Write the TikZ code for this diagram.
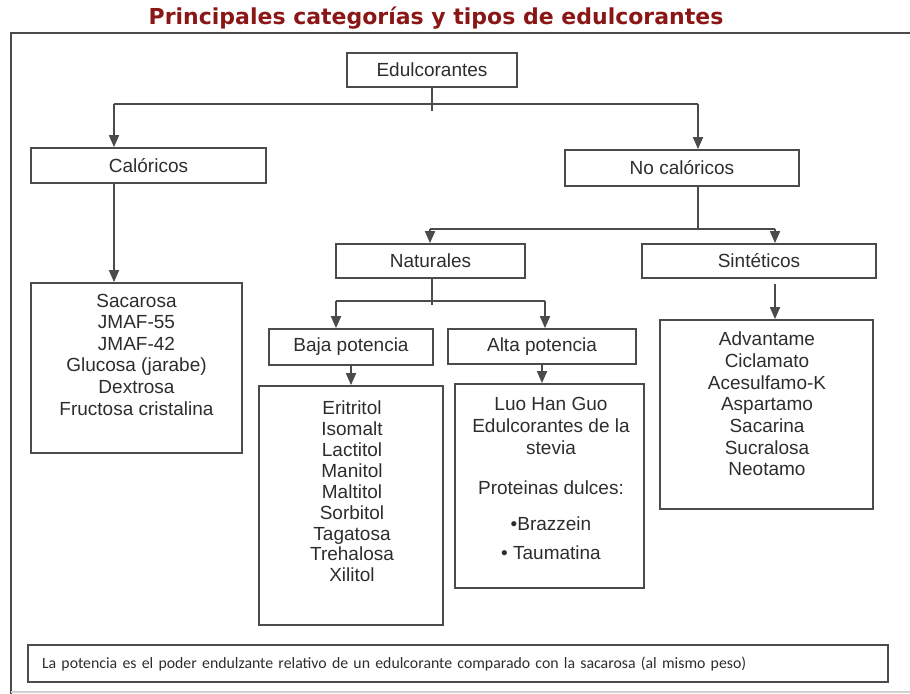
\documentclass[tikz,border=0pt]{standalone}
\usepackage{fontspec}
\setmainfont{Liberation Sans}
\newfontfamily\titlefont{DejaVu Sans}
\newfontfamily\notefont{Carlito}
\usetikzlibrary{calc,positioning,arrows.meta}
\definecolor{titlered}{RGB}{139,22,22}
\definecolor{boxline}{RGB}{75,75,75}
\definecolor{textgray}{RGB}{45,45,45}
\tikzset{
	% ---- default
	every path/.style={line width=0.9pt},
	every node/.style={font=\fontsize{9.5}{11}\selectfont},
	% ---- custom
	box/.style={draw=boxline, line width=0.9pt, inner sep=0pt, text=textgray},
	list/.style={align=center, inner sep=0pt, text=textgray, anchor=north},
	link/.style={draw=boxline, line width=0.9pt},
	arrow/.style={link, -{Triangle[length=6pt,width=5pt]}},
	frame/.style={draw=boxline, line width=0.8pt},
}

\begin{document}
\begin{tikzpicture}[x=0.5pt, y=-0.5pt]

% canvas %{{{2

	\useasboundingbox (0,0) rectangle (910,694);
	\draw[frame] (11,694) -- (11,33) -- (910,33);
	\draw[draw=gray!35, line width=0.6pt] (11,692) -- (910,692);

% title %{{{2

	\node[font=\titlefont\bfseries\fontsize{11}{13}\selectfont, text=titlered] (title) at (436,18) {Principales categorías y tipos de edulcorantes};

% boxes %{{{2

	\node[box, minimum width=85pt, minimum height=17pt] (ed) at (432,70) {Edulcorantes};
	\node[box, minimum width=117.5pt, minimum height=17.5pt] (cal) at (148.5,165.5) {Calóricos};
	\node[box, minimum width=117pt, minimum height=18pt] (nocal) at (682,168) {No calóricos};
	\node[box, minimum width=94.5pt, minimum height=17pt] (nat) at (430.5,261) {Naturales};
	\node[box, minimum width=117pt, minimum height=17pt] (sin) at (759,261) {Sintéticos};
	\node[box, minimum width=82pt, minimum height=18pt] (baja) at (351,347) {Baja potencia};
	\node[box, minimum width=94pt, minimum height=17.5pt] (alta) at (542,346.5) {Alta potencia};

	\node[box, minimum width=105.5pt, minimum height=85pt] (sac) at (136.5,368) {};
	\node[box, minimum width=92pt, minimum height=119.5pt] (eri) at (351,505.5) {};
	\node[box, minimum width=94.5pt, minimum height=102pt] (luo) at (549.5,486) {};
	\node[box, minimum width=106.5pt, minimum height=94.5pt] (adv) at (766.5,414.5) {};

	\node[box, minimum height=18.5pt, inner xsep=7pt, text width=416pt, align=left,
		font=\notefont\fontsize{7.9}{9}\selectfont] (note) at (458,663.5)
		{La potencia es el poder endulzante relativo de un edulcorante comparado con la sacarosa (al mismo peso)};

% lists %{{{2

	\node[list, font=\fontsize{9.5}{10.8}\selectfont] (sac-list) at (136.5,293)
		{Sacarosa\\JMAF-55\\JMAF-42\\Glucosa (jarabe)\\Dextrosa\\Fructosa cristalina};
	\node[list, font=\fontsize{9.5}{10.45}\selectfont] (eri-list) at (352,400)
		{Eritritol\\Isomalt\\Lactitol\\Manitol\\Maltitol\\Sorbitol\\Tagatosa\\Trehalosa\\Xilitol};
	\node[list, font=\fontsize{9.5}{11}\selectfont] (luo-list) at (551,396)
		{Luo Han Guo\\Edulcorantes de la\\stevia\\[9pt]Proteinas dulces:\\[7pt]•Brazzein\\[3.5pt]• Taumatina};
	\node[list, font=\fontsize{9.5}{10.85}\selectfont] (adv-list) at (767,331)
		{Advantame\\Ciclamato\\Acesulfamo-K\\Aspartamo\\Sacarina\\Sucralosa\\Neotamo};

% junctions %{{{2

	\coordinate (j-ed) at (432,111);
	\coordinate (j-cal) at (114,104);
	\coordinate (j-nocal) at (698,104);
	\coordinate (j-nat) at (430,229);
	\coordinate (j-sin) at (775,229);
	\coordinate (j-tick) at (432,305);
	\coordinate (j-baja) at (336,301);
	\coordinate (j-alta) at (545,301);

% connectors %{{{2

	\draw[link] (ed) -- (j-ed);
	\draw[link] (j-cal) -- (j-nocal);
	\draw[arrow] (j-cal) -- (j-cal |- cal.north);
	\draw[arrow] (j-nocal) -- (j-nocal |- nocal.north);
	\draw[arrow] (j-cal |- cal.south) -- (j-cal |- sac.north);

	\draw[link] (j-nocal |- nocal.south) -- (j-nocal |- j-nat);
	\draw[link] (j-nat) -- (j-sin);
	\draw[arrow] (j-nat) -- (j-nat |- nat.north);
	\draw[arrow] (j-sin) -- (j-sin |- sin.north);
	\draw[arrow, shorten <=2.5pt] (j-sin |- sin.south) -- (j-sin |- adv.north);

	\draw[link] (j-tick |- nat.south) -- (j-tick);
	\draw[link] (j-baja) -- (j-alta);
	\draw[arrow] (j-baja) -- (j-baja |- baja.north);
	\draw[arrow] (j-alta) -- (j-alta |- alta.north);
	\draw[arrow] (baja) -- (eri);
	\draw[arrow] (alta.south) -- (alta.south |- luo.north);

% closing %{{{2

\end{tikzpicture}
\end{document}
